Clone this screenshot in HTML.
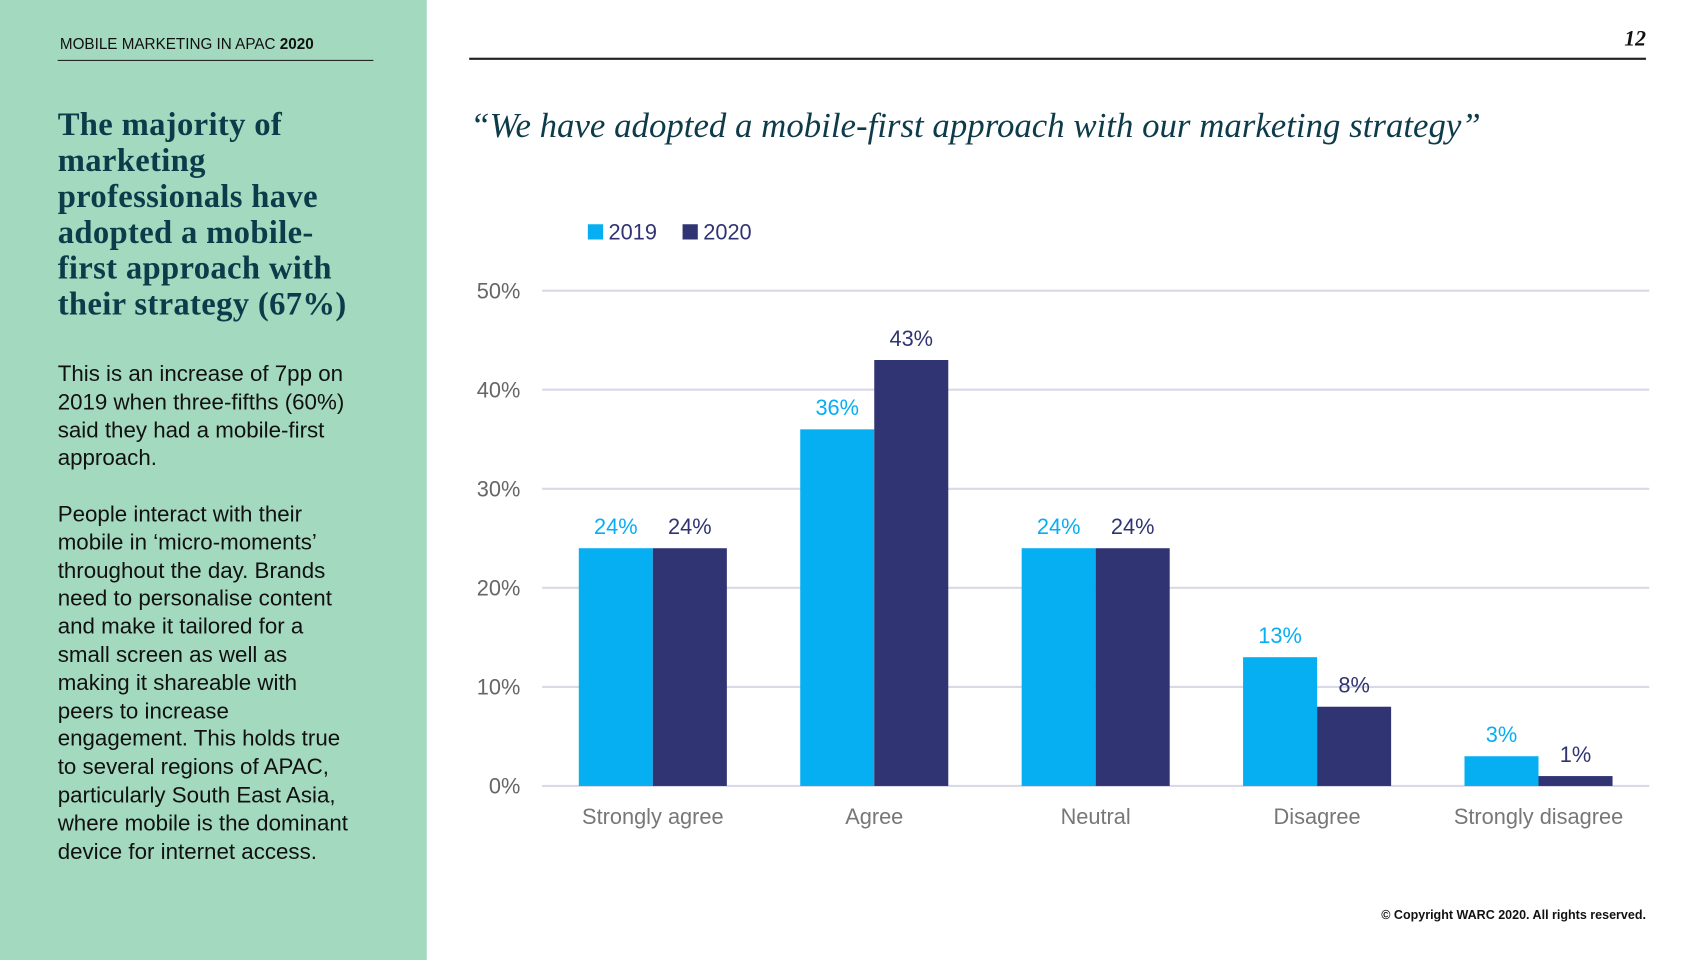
<!DOCTYPE html>
<html><head><meta charset="utf-8"><style>
html,body{margin:0;padding:0;width:1707px;height:960px;overflow:hidden;background:#fff}
#root{position:absolute;left:0;top:0;width:1568px;height:882px;transform:scale(1.0886);transform-origin:0 0;font-family:"Liberation Sans",sans-serif}
.abs{position:absolute}
#side{left:0;top:0;width:392px;height:882px;background:#a3d9bf}
#hdr{left:55px;top:32px;font-size:14px;color:#111}
#hdrline{left:53px;top:55px;width:290px;height:1px;background:#222}
#topline{left:431px;top:53px;width:1081px;height:1.5px;background:#222}
#pg{left:1480px;top:25px;width:32px;text-align:right;font:italic bold 20px "Liberation Serif",serif;color:#111}
#head{left:53px;top:98px;width:275px;font:bold 30px/33px "Liberation Serif",serif;color:#0d3b4a;letter-spacing:0.3px;white-space:nowrap}
#body{left:53px;top:331px;width:300px;font-size:20.5px;line-height:25.8px;color:#111;white-space:nowrap}
#title{left:432px;top:97px;font:italic 32px "Liberation Serif",serif;color:#0d3b4a;white-space:nowrap}
#copy{left:1100px;top:835px;width:412px;text-align:right;font-size:11.5px;font-weight:bold;color:#111}
</style></head><body>
<div id="root">
<div class="abs" id="side"></div>
<div class="abs" id="hdr">MOBILE MARKETING IN APAC <b>2020</b></div>
<div class="abs" id="hdrline"></div>
<div class="abs" id="topline"></div>
<div class="abs" id="pg">12</div>
<div class="abs" id="head">The majority of<br>marketing<br>professionals have<br>adopted a mobile-<br>first approach with<br>their strategy (67%)</div>
<div class="abs" id="body">This is an increase of 7pp on<br>2019 when three-fifths (60%)<br>said they had a mobile-first<br>approach.<br><br>People interact with their<br>mobile in ‘micro-moments’<br>throughout the day. Brands<br>need to personalise content<br>and make it tailored for a<br>small screen as well as<br>making it shareable with<br>peers to increase<br>engagement. This holds true<br>to several regions of APAC,<br>particularly South East Asia,<br>where mobile is the dominant<br>device for internet access.</div>
<div class="abs" id="title">“We have adopted a mobile-first approach with our marketing strategy”</div>
<svg class="abs" style="left:0;top:0" width="1568" height="882" id="chart"></svg>
<div class="abs" id="copy">© Copyright WARC 2020. All rights reserved.</div>
</div>
<script>
const categories=["Strongly agree","Agree","Neutral","Disagree","Strongly disagree"];
const values2019=[24,36,24,13,3];
const values2020=[24,43,24,8,1];
const ticks=[0,10,20,30,40,50];
const seriesNames=["2019","2020"];
const colors=["#05aff2","#303473"];
const svg=document.getElementById('chart');
const NS="http://www.w3.org/2000/svg";
const L=498,R=1515,Y0=722,Y50=267;
const y=v=>Y0-(v/50)*(Y0-Y50);
const gw=(R-L)/categories.length, bw=68;
const xc=i=>L+gw*(i+0.5);
function mk(t,a){const e=document.createElementNS(NS,t);for(const k in a)e.setAttribute(k,a[k]);svg.appendChild(e);return e;}
ticks.forEach(t=>{
 const g=mk('line',{x1:L,x2:R,y1:y(t),y2:y(t),stroke:'#d9d9e8','stroke-width':2});
 
 
 const tx=mk('text',{x:478,y:y(t)+7,'text-anchor':'end','font-size':20,fill:'#666','font-family':'Liberation Sans, sans-serif'});
 tx.textContent=t+'%';
 
 
});
[values2019,values2020].forEach((vals,s)=>{
 vals.forEach((v,i)=>{
  const x=s===0?xc(i)-bw:xc(i);
  const r=mk('rect',{x:x,y:y(v),width:bw,height:Y0-y(v),fill:colors[s]});
  
  
  const t=mk('text',{x:x+bw/2,y:y(v)-13,'text-anchor':'middle','font-size':20,fill:colors[s],'font-family':'Liberation Sans, sans-serif'});
  t.textContent=v+'%';
  
  
 });
});
categories.forEach((c,i)=>{
 const t=mk('text',{x:xc(i),y:757,'text-anchor':'middle','font-size':20,fill:'#777','font-family':'Liberation Sans, sans-serif'});
 t.textContent=c;
 
 
});
seriesNames.forEach((n,s)=>{
 const lx=[540,627][s];
 const r=mk('rect',{x:lx,y:206,width:14,height:14,fill:colors[s]});
 
 
 const t=mk('text',{x:lx+19,y:220,'font-size':20,fill:'#303473','font-family':'Liberation Sans, sans-serif'});
 t.textContent=n;
 
 
});
</script>
</body></html>
